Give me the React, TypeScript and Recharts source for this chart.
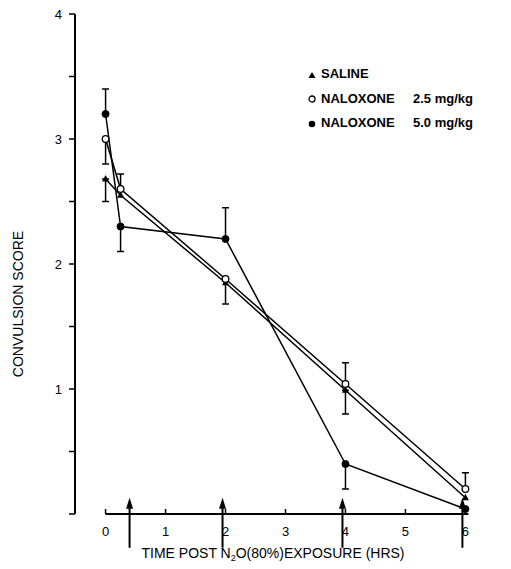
import { LineChart, Line, XAxis, YAxis, ErrorBar, ReferenceLine } from "recharts"

// hours after N2O exposure
const hours = [0, 0.25, 2, 4, 6]

// convulsion scores per group
const saline = [2.68, 2.55, 1.85, 0.99, 0.13]
const naloxone25 = [3.0, 2.6, 1.88, 1.04, 0.2]
const naloxone50 = [3.2, 2.3, 2.2, 0.4, 0.04]

// error bars as [below, above]
const salineErr = [[0.18, 0], null, null, [0.19, 0], null]
const naloxone25Err = [[0.2, 0], [0, 0.12], [0.2, 0], [0, 0.17], [0, 0.13]]
const naloxone50Err = [[0, 0.2], [0.2, 0], [0, 0.25], [0.2, 0], null]

// injection arrows along the time axis
const arrowHours = [0.4, 1.95, 3.95, 5.95]

const xTicks = [0, 1, 2, 3, 4, 5, 6]
const yTicks = [0, 0.5, 1, 1.5, 2, 2.5, 3, 3.5, 4]

const rows = hours.map((t, i) => ({
  t,
  saline: saline[i],
  salineErr: salineErr[i],
  nal25: naloxone25[i],
  nal25Err: naloxone25Err[i],
  nal50: naloxone50[i],
  nal50Err: naloxone50Err[i],
}))

const font = '"Liberation Sans", Arial, sans-serif'

const Triangle = (p: any) => {
  const { cx, cy, index } = p
  if (cx == null || cy == null) return <g key={`tri-${index}`} />
  return (
    <polygon
      key={`tri-${index}`}
      points={`${cx},${cy - 4} ${cx - 3.5},${cy + 2.5} ${cx + 3.5},${cy + 2.5}`}
      fill="#000"
    />
  )
}

const XTick = ({ x, y, payload }: any) => (
  <g>
    <line x1={x} x2={x} y1={y} y2={y - 5} stroke="#000" strokeWidth={1.5} />
    <text x={x} y={y + 22} textAnchor="middle" fontSize={13} fontFamily={font} fill="#000">
      {payload.value}
    </text>
  </g>
)

const Arrow = (p: any) => {
  const { x1, y1, y2 } = p
  const top = Math.min(y1, y2)
  const bottom = Math.max(y1, y2)
  return (
    <g>
      <line x1={x1} x2={x1} y1={top + 8} y2={bottom} stroke="#000" strokeWidth={2} />
      <polygon points={`${x1},${top} ${x1 - 3.5},${top + 11} ${x1 + 3.5},${top + 11}`} fill="#000" />
    </g>
  )
}

function LegendMark({ kind }: { kind: string }) {
  return (
    <svg width={10} height={10} style={{ marginRight: 4, verticalAlign: "middle" }}>
      {kind === "tri" && <polygon points="5,2 1.5,8 8.5,8" fill="#000" />}
      {kind === "open" && <circle cx={5} cy={5} r={3} fill="#fff" stroke="#000" strokeWidth={1.3} />}
      {kind === "filled" && <circle cx={5} cy={5} r={3.3} fill="#000" />}
    </svg>
  )
}

export default function App() {
  return (
    <div style={{ position: "absolute", left: 0, top: 0, width: 511, height: 569, background: "#fff" }}>
      <LineChart width={511} height={569} data={rows} margin={{ top: 14, right: 39, bottom: 0, left: 0 }}>
        <XAxis
          type="number"
          dataKey="t"
          domain={[-0.51, 6.11]}
          ticks={xTicks}
          allowDataOverflow
          axisLine={false}
          tickLine={false}
          tickSize={0}
          tickMargin={0}
          height={55}
          tick={<XTick />}
        />
        <YAxis
          type="number"
          domain={[0, 4]}
          ticks={yTicks}
          width={75}
          axisLine={{ stroke: "#000", strokeWidth: 2 }}
          tickLine={{ stroke: "#000", strokeWidth: 1.5 }}
          tickSize={6}
          tickMargin={7}
          tick={{ fill: "#000", fontSize: 13, fontFamily: font }}
          tickFormatter={(v: number) => (Number.isInteger(v) && v > 0 ? String(v) : "")}
        />
        <ReferenceLine
          segment={[{ x: 0, y: 0 }, { x: 6.05, y: 0 }]}
          stroke="#000"
          strokeWidth={2}
          ifOverflow="visible"
        />
        {arrowHours.map((h) => (
          <ReferenceLine
            key={h}
            segment={[{ x: h, y: 0.13 }, { x: h, y: -0.27 }]}
            ifOverflow="visible"
            shape={<Arrow />}
          />
        ))}
        <Line
          dataKey="saline"
          stroke="#000"
          strokeWidth={1.5}
          dot={<Triangle />}
          isAnimationActive={false}
        >
          <ErrorBar dataKey="salineErr" direction="y" width={3.5} stroke="#000" strokeWidth={1.5} />
        </Line>
        <Line
          dataKey="nal25"
          stroke="#000"
          strokeWidth={1.5}
          dot={{ r: 3.3, fill: "#fff", stroke: "#000", strokeWidth: 1.3 }}
          isAnimationActive={false}
        >
          <ErrorBar dataKey="nal25Err" direction="y" width={3.5} stroke="#000" strokeWidth={1.5} />
        </Line>
        <Line
          dataKey="nal50"
          stroke="#000"
          strokeWidth={1.5}
          dot={{ r: 3.5, fill: "#000", stroke: "#000", strokeWidth: 1 }}
          isAnimationActive={false}
        >
          <ErrorBar dataKey="nal50Err" direction="y" width={3.5} stroke="#000" strokeWidth={1.5} />
        </Line>
      </LineChart>

      <div
        style={{
          position: "absolute",
          left: 18,
          top: 304,
          transform: "translate(-50%, -50%) rotate(-90deg)",
          fontFamily: font,
          fontSize: 14,
          whiteSpace: "nowrap",
        }}
      >
        CONVULSION SCORE
      </div>

      <div
        style={{
          position: "absolute",
          left: 273,
          top: 554,
          transform: "translate(-50%, -50%)",
          fontFamily: font,
          fontSize: 14,
          whiteSpace: "nowrap",
        }}
      >
        TIME POST N<span style={{ fontSize: 9, verticalAlign: -3 }}>2</span>O(80%)EXPOSURE (HRS)
      </div>

      <div
        style={{
          position: "absolute",
          left: 307,
          top: 62,
          fontFamily: font,
          fontWeight: "bold",
          fontSize: 13,
          lineHeight: "24.5px",
          whiteSpace: "nowrap",
        }}
      >
        <div>
          <LegendMark kind="tri" />
          SALINE
        </div>
        <div>
          <LegendMark kind="open" />
          <span style={{ display: "inline-block", width: 92 }}>NALOXONE</span>
          2.5 mg/kg
        </div>
        <div>
          <LegendMark kind="filled" />
          <span style={{ display: "inline-block", width: 92 }}>NALOXONE</span>
          5.0 mg/kg
        </div>
      </div>
    </div>
  )
}
